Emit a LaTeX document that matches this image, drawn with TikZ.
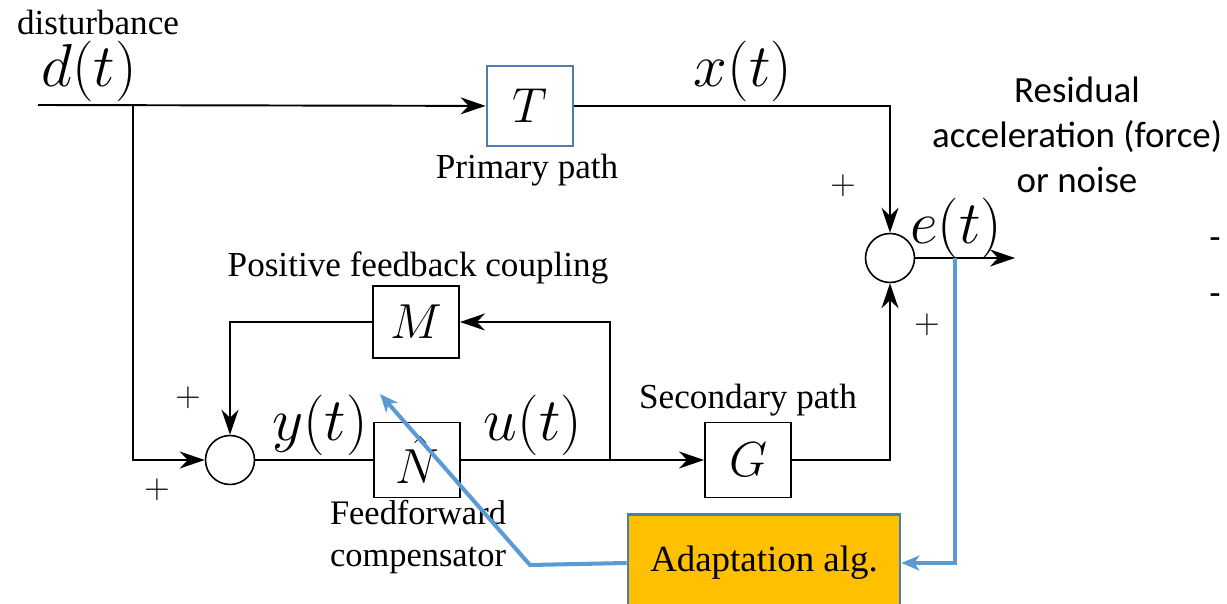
\documentclass[tikz,border=0pt]{standalone}
\usepackage{fix-cm}
\usepackage{fontspec}
\newfontfamily\calfont{Carlito}
\newfontfamily\romanfont[Ligatures=TeX]{Liberation Serif}
\usetikzlibrary{arrows.meta, positioning}
\definecolor{boxblue}{HTML}{4F7DB3}
\definecolor{linkblue}{HTML}{5B9BD5}
\definecolor{adaporange}{HTML}{FFC000}

\begin{document}
\begin{tikzpicture}[x=0.02cm, y=-0.02cm, line width=1.1pt, >={Stealth[length=5mm,width=3.4mm,inset=1.6mm]},
        block/.style={draw, line width=1.1pt, minimum width=1.72cm, minimum height=1.5cm, inner sep=0pt, font=\fontsize{28}{30}\selectfont},
        sum/.style={draw, circle, line width=0.9pt, minimum size=0.98cm, inner sep=0pt},
        sig/.style={font=\fontsize{34.5}{36}\selectfont},
        lbl/.style={font=\romanfont\fontsize{20}{24.4}\selectfont},
        plus/.style={font=\fontsize{20}{22}\selectfont},
        adapt/.style={linkblue, line width=2.3pt, ->, >={Stealth[length=3.6mm,width=3mm,inset=1mm]}}]
    \useasboundingbox (0,0) rectangle (1227,604);
    % blocks and junctions
    \node[block, draw=boxblue, line width=1.6pt, minimum height=1.6cm] (T) at (530,106) {$T$};
    \node[block] (M) at (416,322) [minimum height=1.44cm] {$M$};
    \node[block] (N) at (417,460) {$\hat N$};
    \node[block] (G) at (748,460) {$G$};
    \node[sum] (sum1) at (230,460) {};
    \node[sum] (sum2) at (890,258) {};
    \node[draw=boxblue, fill=adaporange, line width=1.6pt, minimum width=5.44cm, minimum height=1.94cm,
        font=\romanfont\fontsize{21}{24}\selectfont, text depth=0pt] (alg) at (764,563) {\raisebox{0.5ex}{Adaptation alg.}};
    \coordinate (din) at (38,105);
    \coordinate (split) at (133,105);
    \coordinate (branch) at (610,460);
    \coordinate (out) at (1015,258);
    \coordinate (tap) at (955,258);
    \coordinate (bend) at (530,565);
    \coordinate (tip) at (380,394);
    % labels
    \node[lbl] (dist) at (98,22) {disturbance};
    \node[sig] (dlab) at (89,71) {$d(t)$};
    \node[sig] (xlab) at (743,71) {$x(t)$};
    \node[sig] (elab) at (956,228) {$e(t)$};
    \node[sig] (ylab) at (320,425) {$y(t)$};
    \node[sig] (ulab) at (533,425) {$u(t)$};
    \node[lbl] (prim) at (527,170) {Primary path};
    \node[lbl] (pos) at (418,268) {Positive feedback coupling};
    \node[lbl] (sec) at (748,400) {Secondary path};
    \node[lbl, font=\romanfont\fontsize{19.6}{24.4}\selectfont, align=center] (ff) at (418,537) {Feedforward\\compensator};
    \node[font=\calfont\fontsize{21}{25.5}\selectfont, align=center] (res) at (1077,135) {Residual\\acceleration (force)\\or noise};
    \node[font=\calfont\fontsize{21}{24}\selectfont] (dash1) at (1215,244) {-};
    \node[font=\calfont\fontsize{21}{24}\selectfont] (dash2) at (1215,300) {-};
    \node[plus] (p1) at (843,186) {$+$};
    \node[plus] (p2) at (927,325) {$+$};
    \node[plus] (p3) at (188,398) {$+$};
    \node[plus] (p4) at (157,490) {$+$};
    % signal flow
    \draw[->] (din) -- (T);
    \draw[->] (split) |- (sum1);
    \draw[->] (T) -| (sum2);
    \draw[->] (sum2) -- (out);
    \draw[->] (M) -| (sum1);
    \draw[->] (branch) |- (M);
    \draw (sum1) -- (N);
    \path[->] (N) edge (G);
    \draw[->] (G) -| (sum2);
    % adaptation
    \draw[adapt] (tap) |- (alg.east);
    \draw[adapt] (alg.west) -- (bend) -- (tip);
\end{tikzpicture}
\end{document}
